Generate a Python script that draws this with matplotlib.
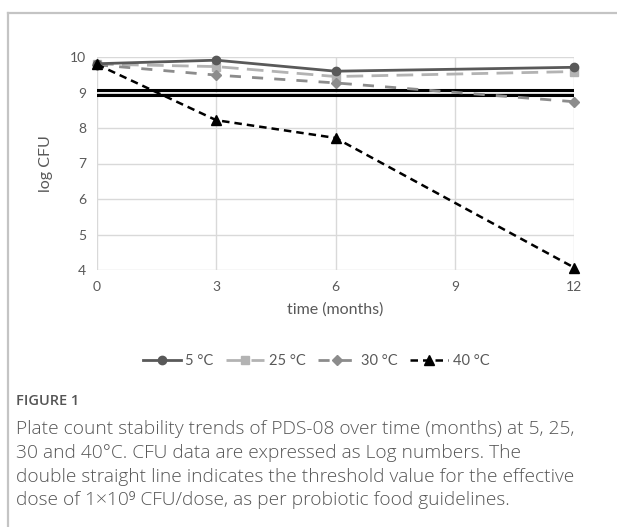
import matplotlib.pyplot as plt
from matplotlib.lines import Line2D

# data
months = [0, 3, 6, 12]
cfu_5 = [9.81, 9.91, 9.60, 9.71]
cfu_25 = [9.80, 9.73, 9.45, 9.59]
cfu_30 = [9.78, 9.49, 9.27, 8.74]
cfu_40 = [9.79, 8.22, 7.72, 4.07]
threshold = [9.07, 8.92]
labels = ['5 °C', '25 °C', '30 °C', '40 °C']

fig = plt.figure(figsize=(6.17, 5.27), dpi=100)
ax = fig.add_axes([97/617, 1-270/527, (574-97)/617, (270-57)/527])

tick_col = '#595959'
ax.plot(months, cfu_5, color='#595959', lw=2, marker='o', ms=6, label=labels[0], zorder=4, clip_on=False)
ax.plot(months, cfu_25, color='#b3b3b3', lw=2, ls=(0, (6, 3)), marker='s', ms=6, label=labels[1], zorder=3, clip_on=False)
ax.plot(months, cfu_30, color='#8c8c8c', lw=2, ls=(0, (4, 4)), marker='D', ms=5, label=labels[2], zorder=3, clip_on=False)
ax.plot(months, cfu_40, color='black', lw=1.8, ls=(0, (3, 2)), marker='^', ms=7, label=labels[3], zorder=5, clip_on=False)

for t in threshold:
    ax.axhline(t, color='black', lw=2.2, zorder=2)

ax.set_xlim(0, 12)
ax.set_ylim(4, 10)
ax.set_xticks([0, 3, 6, 9, 12])
ax.set_yticks(range(4, 11))
ax.grid(True, color='#d9d9d9', lw=1)
ax.set_axisbelow(True)
for s in ax.spines.values():
    s.set_visible(False)
ax.tick_params(length=0, labelsize=10, labelcolor=tick_col, pad=8)
for lab in ax.get_xticklabels() + ax.get_yticklabels():
    lab.set_family('Lato')
ax.set_xlabel('time (months)', fontsize=11.5, color=tick_col, family='Lato', labelpad=7)
ax.set_ylabel('log CFU', fontsize=11.5, color=tick_col, family='Lato', labelpad=12)

leg = fig.legend(loc='center', bbox_to_anchor=(316/617, 1-361/527), ncol=4, frameon=False,
                 handlelength=2.6, columnspacing=0.9, handletextpad=0.3,
                 prop={'family': 'Lato', 'size': 10.5})
for t in leg.get_texts():
    t.set_color(tick_col)

# page frame
fig.add_artist(Line2D([8/617, 1], [1-13/527, 1-13/527], color='#c4c4c4', lw=1.6))
fig.add_artist(Line2D([8/617, 8/617], [0, 1-13/527], color='#c4c4c4', lw=1.6))

fig.text(16/617, 1-401/527, 'FIGURE 1', fontsize=10.5, color='#555555', family='Open Sans',
         weight='semibold', va='center')
caption = ['Plate count stability trends of PDS-08 over time (months) at 5, 25,',
           '30 and 40°C. CFU data are expressed as Log numbers. The',
           'double straight line indicates the threshold value for the effective',
           'dose of 1×10⁹ CFU/dose, as per probiotic food guidelines.']
ys = [429, 453, 477, 500]
for line, y in zip(caption, ys):
    fig.text(16/617, 1-y/527, line, fontsize=13.8, color='#555555', family='Open Sans',
             weight='light', va='center')

plt.savefig('out.png', dpi=100)
